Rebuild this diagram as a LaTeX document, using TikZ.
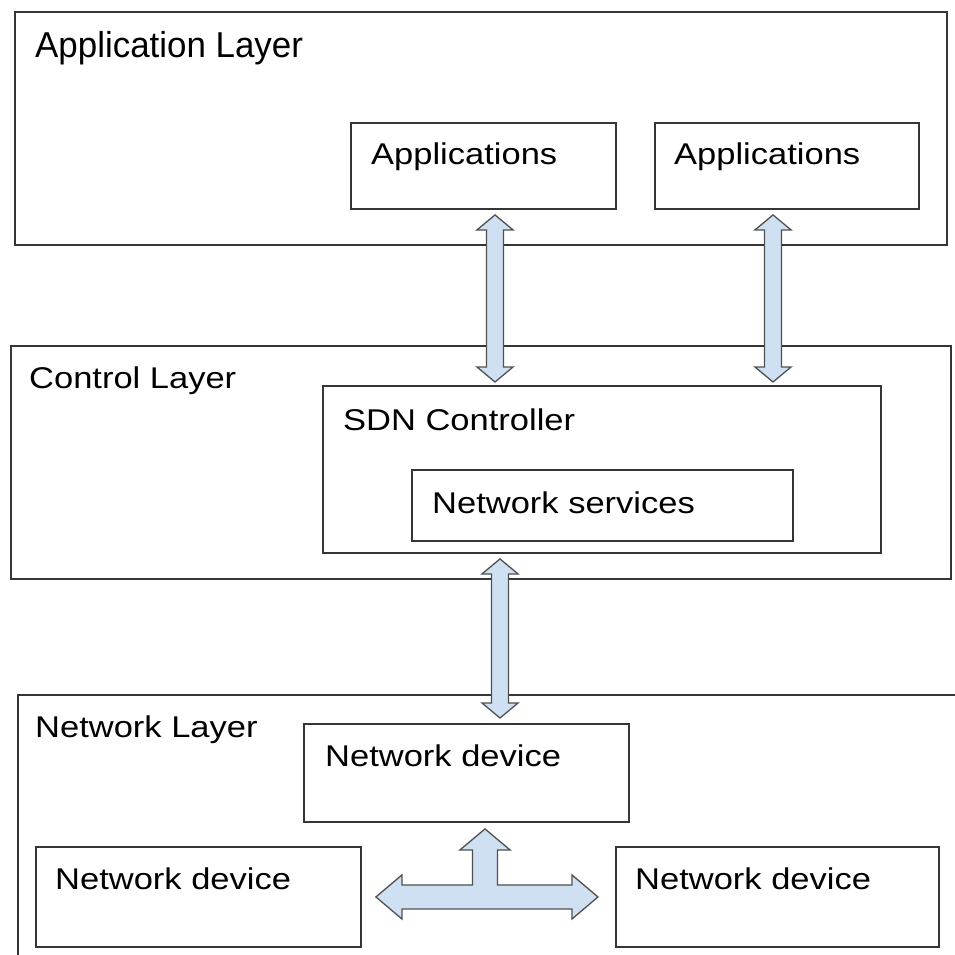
\documentclass[tikz,border=0pt]{standalone}
\usepackage{fontspec}
\newfontfamily\lblfont[FakeStretch=1.15]{Liberation Sans}
\newfontfamily\toplblfont[FakeStretch=0.97]{Liberation Sans}
\usetikzlibrary{calc}
\definecolor{boxline}{HTML}{353535}
\definecolor{arrfill}{HTML}{CFE0F2}
\definecolor{arrline}{HTML}{505050}
\tikzset{
  box/.style={draw=boxline, line width=1.9pt, fill=white, anchor=north west, inner sep=0pt},
  lbl/.style={anchor=base west, inner sep=0pt, font=\lblfont\fontsize{30}{32}\selectfont, text=black},
  toplbl/.style={anchor=base west, inner sep=0pt, font=\toplblfont\fontsize{36}{38}\selectfont, text=black},
  blockarrow/.style={draw=arrline, line width=1.3pt, fill=arrfill, line join=miter}
}
\newcommand{\vdblarrow}[2]{%
  \draw[blockarrow] let \p1=(#1), \p2=(#2) in
    (\x1,\y1) -- (\x1+18pt,\y1-15pt) -- (\x1+8.5pt,\y1-15pt) -- (\x1+8.5pt,\y2+15pt)
    -- (\x1+18pt,\y2+15pt) -- (\x1,\y2) -- (\x1-18pt,\y2+15pt) -- (\x1-8.5pt,\y2+15pt)
    -- (\x1-8.5pt,\y1-15pt) -- (\x1-18pt,\y1-15pt) -- cycle;}
\begin{document}
\begin{tikzpicture}[x=1pt,y=-1pt]
\useasboundingbox (0,0) rectangle (955,954);
\fill[white] (0,0) rectangle (955,954);
% Application layer
\node[box, minimum width=932pt, minimum height=233pt] (applayer) at (14,11) {};
\node[toplbl] (applbl) at (35,57) {Application Layer};
\node[box, minimum width=265pt, minimum height=86pt] (app1) at (350,122) {};
\node[lbl] (app1lbl) at (371,164) {Applications};
\node[box, minimum width=264pt, minimum height=86pt] (app2) at (654,122) {};
\node[lbl] (app2lbl) at (674,164) {Applications};
% Control layer
\node[box, minimum width=940pt, minimum height=233pt] (ctrllayer) at (10,345) {};
\node[lbl] (ctrllbl) at (29,388) {Control Layer};
\node[box, minimum width=558pt, minimum height=167pt] (sdn) at (322,385) {};
\node[lbl] (sdnlbl) at (343,430) {SDN Controller};
\node[box, minimum width=381pt, minimum height=71pt] (netsvc) at (411,469) {};
\node[lbl] (netsvclbl) at (432,513) {Network services};
% Network layer (cut off at right and bottom)
\begin{scope}
\clip (0,0) rectangle (955,954);
\node[box, minimum width=960pt, minimum height=280pt] (netlayer) at (17,694) {};
\end{scope}
\node[lbl] (netlbl) at (35,737) {Network Layer};
\node[box, minimum width=325pt, minimum height=98pt] (ndtop) at (303,723) {};
\node[lbl] (ndtoplbl) at (325,766) {Network device};
\node[box, minimum width=325pt, minimum height=100pt] (ndleft) at (35,846) {};
\node[lbl] (ndleftlbl) at (55,889) {Network device};
\node[box, minimum width=323pt, minimum height=100pt] (ndright) at (615,846) {};
\node[lbl] (ndrightlbl) at (635,889) {Network device};
% vertical double arrows
\coordinate (xa) at (495,0);
\coordinate (xb) at (773,0);
\coordinate (xc) at (500,0);
\coordinate (a1t) at ($(xa |- app1.south)+(0,5)$);
\coordinate (a1b) at ($(xa |- sdn.north)+(0,-3)$);
\coordinate (a2t) at ($(xb |- app2.south)+(0,5)$);
\coordinate (a2b) at ($(xb |- sdn.north)+(0,-3)$);
\coordinate (a3t) at ($(xc |- sdn.south)+(0,5)$);
\coordinate (a3b) at ($(xc |- ndtop.north)+(0,-5)$);
\vdblarrow{a1t}{a1b}
\vdblarrow{a2t}{a2b}
\vdblarrow{a3t}{a3b}
% T-shaped arrow between network devices
\coordinate (tup) at ($(485,0 |- ndtop.south)+(0,6)$);
\coordinate (tleft) at ($(ndleft.east)+(14,0)$);
\coordinate (tright) at ($(ndright.west)+(-17,0)$);
\draw[blockarrow] let \p1=(tup), \p2=(tleft), \p3=(tright) in
  (\x1,\y1) -- (\x1+25pt,\y1-21pt) -- (\x1+12.5pt,\y1-21pt) -- (\x1+12.5pt,\y2+12pt)
  -- (\x3-26pt,\y2+12pt) -- (\x3-26pt,\y2+22pt) -- (\x3,\y2) -- (\x3-26pt,\y2-22pt)
  -- (\x3-26pt,\y2-12pt) -- (\x2+26pt,\y2-12pt) -- (\x2+26pt,\y2-22pt) -- (\x2,\y2)
  -- (\x2+26pt,\y2+22pt) -- (\x2+26pt,\y2+12pt) -- (\x1-12.5pt,\y2+12pt)
  -- (\x1-12.5pt,\y1-21pt) -- (\x1-25pt,\y1-21pt) -- cycle;
\end{tikzpicture}
\end{document}
